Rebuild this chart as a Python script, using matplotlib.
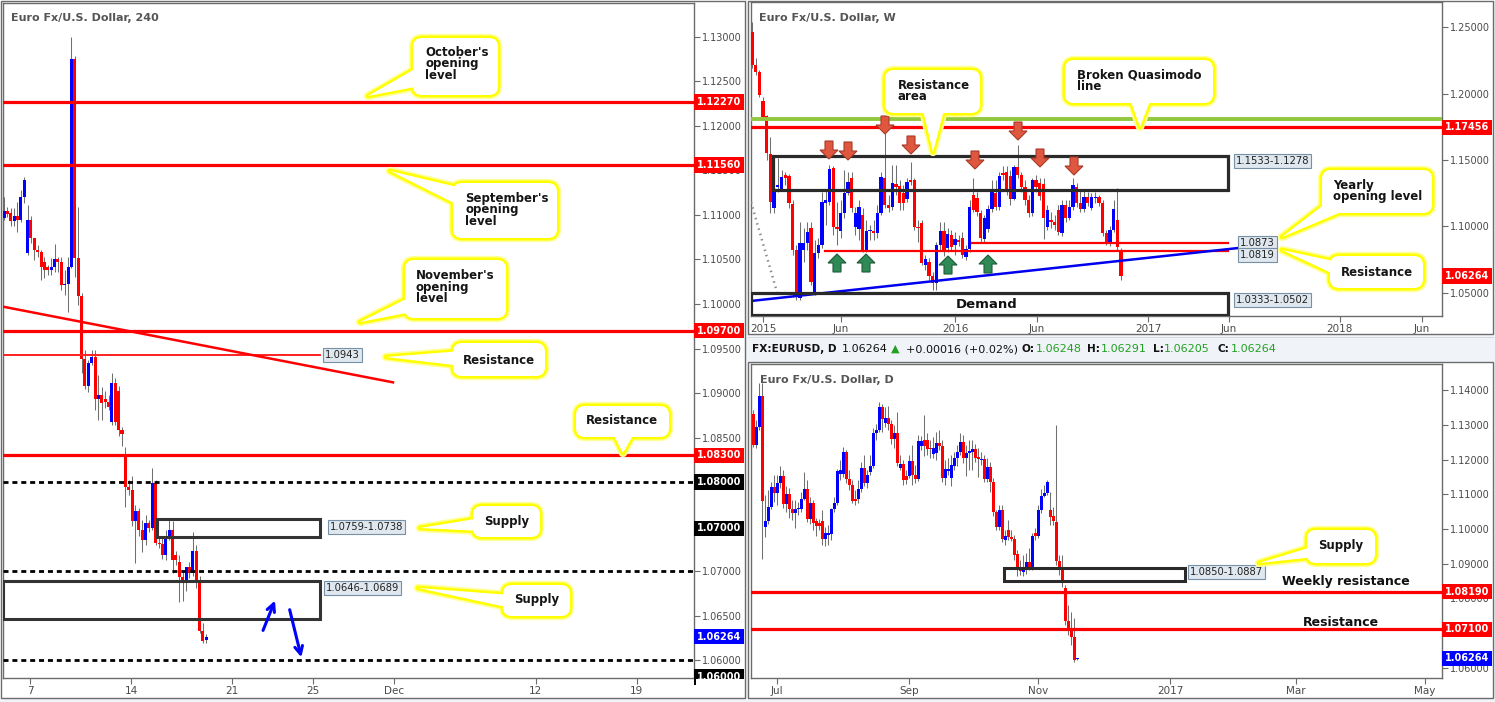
import matplotlib
matplotlib.use("Agg")
import matplotlib.pyplot as plt
import matplotlib.transforms as mtransforms
from matplotlib.patches import Rectangle, FancyBboxPatch, Polygon
from matplotlib.ticker import MultipleLocator, FuncFormatter
import numpy as np

plt.rcParams['font.family'] = ['DejaVu Sans']

# ---------------------------------------------------------------- data
# EUR/USD 240-minute candles
h4_open = [1.1097, 1.1104, 1.1102, 1.1093, 1.1099, 1.1094, 1.1120, 1.1057, 1.1094, 1.1074,
           1.1061, 1.1058, 1.1047, 1.1041, 1.1038, 1.1042, 1.1050, 1.1047, 1.1021, 1.1023,
           1.1041, 1.1275, 1.1052, 1.1009, 1.0938, 1.0908, 1.0934, 1.0941, 1.0893, 1.0898,
           1.0893, 1.0890, 1.0867, 1.0911, 1.0902, 1.0859, 1.0830, 1.0794, 1.0791, 1.0756,
           1.0767, 1.0746, 1.0735, 1.0754, 1.0748, 1.0799, 1.0732, 1.0731, 1.0718, 1.0738,
           1.0746, 1.0718, 1.0710, 1.0693, 1.0687, 1.0705, 1.0698, 1.0723, 1.0687, 1.0633,
           1.0623]
h4_high = [1.1120, 1.1109, 1.1108, 1.1108, 1.1115, 1.1128, 1.1143, 1.1111, 1.1099, 1.1074,
           1.1066, 1.1061, 1.1053, 1.1044, 1.1052, 1.1067, 1.1053, 1.1053, 1.1038, 1.1053,
           1.1300, 1.1278, 1.1109, 1.1012, 1.0948, 1.0937, 1.0948, 1.0948, 1.0920, 1.0907,
           1.0902, 1.0898, 1.0922, 1.0917, 1.0908, 1.0862, 1.0839, 1.0802, 1.0807, 1.0774,
           1.0771, 1.0757, 1.0763, 1.0757, 1.0816, 1.0802, 1.0737, 1.0737, 1.0746, 1.0757,
           1.0756, 1.0723, 1.0718, 1.0701, 1.0705, 1.0710, 1.0744, 1.0729, 1.0695, 1.0642,
           1.0629]
h4_low = [1.1094, 1.1098, 1.1088, 1.1088, 1.1081, 1.1092, 1.1113, 1.1055, 1.1068, 1.1049,
          1.1053, 1.1027, 1.1029, 1.1032, 1.1032, 1.1036, 1.1036, 1.1016, 1.1010, 1.0991,
          1.1040, 1.1030, 1.0999, 1.0923, 1.0905, 1.0901, 1.0931, 1.0881, 1.0870, 1.0870,
          1.0883, 1.0881, 1.0864, 1.0864, 1.0852, 1.0841, 1.0772, 1.0785, 1.0751, 1.0709,
          1.0740, 1.0721, 1.0729, 1.0744, 1.0746, 1.0729, 1.0726, 1.0714, 1.0712, 1.0735,
          1.0698, 1.0707, 1.0665, 1.0667, 1.0678, 1.0692, 1.0695, 1.0681, 1.0631, 1.0619,
          1.0619]
h4_close = [1.1104, 1.1101, 1.1093, 1.1099, 1.1094, 1.1120, 1.1139, 1.1094, 1.1074, 1.1061,
            1.1058, 1.1041, 1.1038, 1.1038, 1.1042, 1.1050, 1.1047, 1.1021, 1.1023, 1.1041,
            1.1275, 1.1052, 1.1009, 1.0938, 1.0908, 1.0934, 1.0941, 1.0893, 1.0898, 1.0889,
            1.0890, 1.0884, 1.0911, 1.0867, 1.0858, 1.0854, 1.0794, 1.0791, 1.0756, 1.0767,
            1.0746, 1.0735, 1.0754, 1.0748, 1.0799, 1.0732, 1.0731, 1.0718, 1.0738, 1.0746,
            1.0713, 1.0712, 1.0693, 1.0687, 1.0705, 1.0698, 1.0723, 1.0687, 1.0633, 1.0622,
            1.0626]
h4_tick_pos = [7.7, 37.7, 67.7, 91.7, 115.7, 157.7, 187.7]
h4_tick_lab = ['7', '14', '21', '25', 'Dec', '12', '19']

# EUR/USD weekly candles
w_open = [1.2462, 1.2214, 1.2162, 1.1943, 1.1831, 1.1545, 1.1139, 1.1297, 1.1282, 1.1387,
          1.1380, 1.1169, 1.0823, 1.0462, 1.0823, 1.0876, 1.0988, 1.0507, 1.0801, 1.0861,
          1.1176, 1.1184, 1.1442, 1.0996, 1.0966, 1.1101, 1.1252, 1.1364, 1.0996, 1.0981,
          1.1086, 1.0823, 1.0966, 1.0966, 1.0951, 1.1101, 1.1364, 1.1161, 1.1146, 1.1319,
          1.1304, 1.1252, 1.1207, 1.1349, 1.1349, 1.0996, 1.1026, 1.0710, 1.0733, 1.0627,
          1.0575, 1.0861, 1.0966, 1.0838, 1.0936, 1.0861, 1.0898, 1.0913, 1.0770, 1.0831,
          1.1237, 1.1214, 1.1101, 1.0906, 1.0981, 1.1131, 1.1252, 1.1146, 1.1402, 1.1410,
          1.1380, 1.1207, 1.1447, 1.1387, 1.1297, 1.1199, 1.1101, 1.1349, 1.1327, 1.1319,
          1.0996, 1.1049, 1.1034, 1.1124, 1.0951, 1.1161, 1.1064, 1.1146, 1.1297, 1.1176,
          1.1131, 1.1222, 1.1139, 1.1214, 1.1222, 1.1176, 1.0951, 1.0876, 1.0973, 1.1049,
          1.0823]
w_high = [1.2538, 1.2267, 1.2177, 1.1974, 1.1838, 1.1673, 1.1515, 1.1515, 1.1425, 1.1410,
          1.1395, 1.1199, 1.0861, 1.1034, 1.0988, 1.1034, 1.1034, 1.0898, 1.0913, 1.1259,
          1.1274, 1.1462, 1.1455, 1.1184, 1.1199, 1.1425, 1.1410, 1.1410, 1.1146, 1.1199,
          1.1139, 1.1049, 1.1011, 1.1049, 1.1161, 1.1410, 1.1703, 1.1237, 1.1462, 1.1462,
          1.1349, 1.1312, 1.1364, 1.1485, 1.1364, 1.1049, 1.1049, 1.0785, 1.0763, 1.0658,
          1.0883, 1.1034, 1.1034, 1.0988, 1.0973, 1.0958, 1.0936, 1.0958, 1.0861, 1.1199,
          1.1364, 1.1259, 1.1124, 1.1086, 1.1161, 1.1349, 1.1349, 1.1410, 1.1455, 1.1455,
          1.1425, 1.1462, 1.1613, 1.1410, 1.1349, 1.1237, 1.1364, 1.1387, 1.1364, 1.1364,
          1.1161, 1.1109, 1.1086, 1.1161, 1.1199, 1.1199, 1.1199, 1.1364, 1.1327, 1.1274,
          1.1274, 1.1259, 1.1252, 1.1259, 1.1237, 1.1199, 1.0973, 1.1003, 1.1199, 1.1289,
          1.0838]
w_low = [1.2192, 1.2139, 1.1974, 1.1801, 1.1500, 1.1101, 1.1101, 1.1259, 1.1274, 1.1312,
         1.1139, 1.0785, 1.0447, 1.0447, 1.0733, 1.0823, 1.0560, 1.0485, 1.0763, 1.0838,
         1.1011, 1.1161, 1.0936, 1.0861, 1.0913, 1.1064, 1.1237, 1.1109, 1.0936, 1.0898,
         1.0808, 1.0808, 1.0898, 1.0898, 1.0913, 1.1086, 1.1139, 1.1109, 1.1124, 1.1237,
         1.1124, 1.1124, 1.1184, 1.1312, 1.0973, 1.0883, 1.0710, 1.0673, 1.0597, 1.0522,
         1.0522, 1.0823, 1.0778, 1.0808, 1.0823, 1.0785, 1.0853, 1.0763, 1.0748, 1.0808,
         1.1109, 1.1079, 1.0883, 1.0883, 1.0958, 1.1109, 1.1124, 1.1124, 1.1349, 1.1237,
         1.1161, 1.1199, 1.1364, 1.1259, 1.1161, 1.1071, 1.1079, 1.1259, 1.1199, 1.0906,
         1.0973, 1.0988, 1.0973, 1.0936, 1.0928, 1.1034, 1.1049, 1.1124, 1.1146, 1.1109,
         1.1109, 1.1154, 1.1124, 1.1176, 1.1154, 1.0928, 1.0861, 1.0853, 1.0958, 1.0823,
         1.0597]
w_close = [1.2214, 1.2162, 1.1989, 1.1823, 1.1552, 1.1184, 1.1259, 1.1312, 1.1372, 1.1364,
           1.1176, 1.0823, 1.0470, 1.0876, 1.0876, 1.0958, 1.0582, 1.0801, 1.0861, 1.1184,
           1.1199, 1.1432, 1.0996, 1.0981, 1.1101, 1.1252, 1.1334, 1.1139, 1.1101, 1.1146,
           1.0823, 1.0966, 1.0973, 1.0951, 1.1101, 1.1372, 1.1161, 1.1139, 1.1327, 1.1297,
           1.1176, 1.1176, 1.1334, 1.1334, 1.0996, 1.0988, 1.0725, 1.0755, 1.0627, 1.0575,
           1.0861, 1.0966, 1.0808, 1.0943, 1.0846, 1.0906, 1.0883, 1.0785, 1.0831, 1.1146,
           1.1124, 1.1109, 1.0913, 1.1064, 1.1131, 1.1259, 1.1146, 1.1380, 1.1387, 1.1259,
           1.1207, 1.1447, 1.1387, 1.1297, 1.1199, 1.1101, 1.1349, 1.1297, 1.1229, 1.1064,
           1.1124, 1.1034, 1.1011, 1.0958, 1.1161, 1.1064, 1.1146, 1.1312, 1.1176, 1.1131,
           1.1222, 1.1176, 1.1222, 1.1222, 1.1176, 1.0951, 1.0876, 1.0973, 1.1131, 1.0846,
           1.0626]
w_tick_pos = [3.0, 24.1, 55.0, 77.2, 107.3, 129.3, 159.3, 181.6]
w_tick_lab = ['2015', 'Jun', '2016', 'Jun', '2017', 'Jun', '2018', 'Jun']

# EUR/USD daily candles
d_open = [1.1332, 1.1242, 1.1294, 1.1384, 1.1006, 1.1023, 1.1063, 1.1121, 1.1104, 1.1133,
          1.1153, 1.1072, 1.1101, 1.1058, 1.1046, 1.1058, 1.1058, 1.1087, 1.1115, 1.1029,
          1.1075, 1.1023, 1.1017, 1.1023, 1.0971, 1.0983, 1.0986, 1.1058, 1.1075, 1.1159,
          1.1159, 1.1222, 1.1144, 1.1127, 1.1087, 1.1087, 1.1115, 1.1176, 1.1133, 1.1164,
          1.1182, 1.1277, 1.1286, 1.1352, 1.1306, 1.1320, 1.1303, 1.1260, 1.1277, 1.1176,
          1.1188, 1.1153, 1.1153, 1.1196, 1.1156, 1.1144, 1.1239, 1.1257, 1.1257, 1.1234,
          1.1216, 1.1219, 1.1248, 1.1239, 1.1147, 1.1167, 1.1147, 1.1182, 1.1205, 1.1222,
          1.1251, 1.1205, 1.1219, 1.1222, 1.1231, 1.1208, 1.1199, 1.1202, 1.1144, 1.1179,
          1.1136, 1.1049, 1.1006, 1.1055, 1.0968, 1.0997, 1.0977, 1.0971, 1.0928, 1.0887,
          1.0876, 1.0887, 1.0905, 1.0890, 1.0988, 1.0980, 1.1055, 1.1095, 1.1104, 1.1055,
          1.1037, 1.1020, 1.0908, 1.0887, 1.0830, 1.0734, 1.0714, 1.0688, 1.06248]
d_high = [1.1343, 1.1315, 1.1421, 1.1421, 1.1098, 1.1112, 1.1136, 1.1156, 1.1156, 1.1182,
          1.1170, 1.1124, 1.1118, 1.1084, 1.1084, 1.1078, 1.1107, 1.1164, 1.1141, 1.1092,
          1.1084, 1.1032, 1.1029, 1.1055, 1.1006, 1.1011, 1.1061, 1.1092, 1.1173, 1.1199,
          1.1237, 1.1228, 1.1170, 1.1141, 1.1112, 1.1141, 1.1193, 1.1213, 1.1170, 1.1213,
          1.1291, 1.1303, 1.1366, 1.1361, 1.1352, 1.1355, 1.1315, 1.1300, 1.1338, 1.1213,
          1.1199, 1.1170, 1.1213, 1.1242, 1.1185, 1.1271, 1.1268, 1.1329, 1.1277, 1.1257,
          1.1265, 1.1280, 1.1286, 1.1257, 1.1199, 1.1205, 1.1213, 1.1222, 1.1242, 1.1277,
          1.1271, 1.1242, 1.1257, 1.1257, 1.1245, 1.1234, 1.1222, 1.1213, 1.1205, 1.1193,
          1.1147, 1.1055, 1.1069, 1.1069, 1.0997, 1.1026, 1.0997, 1.0983, 1.0939, 1.0910,
          1.0925, 1.0931, 1.0945, 1.0988, 1.1003, 1.1069, 1.1115, 1.1127, 1.1141, 1.1107,
          1.1063, 1.1300, 1.0925, 1.0925, 1.0838, 1.0781, 1.0760, 1.0743, 1.06291]
d_low = [1.1237, 1.1234, 1.1286, 1.0913, 1.0977, 1.1014, 1.1058, 1.1078, 1.1069, 1.1118,
         1.1061, 1.1049, 1.1032, 1.1026, 1.1003, 1.1040, 1.1049, 1.1084, 1.1020, 1.1014,
         1.0997, 1.0980, 1.0997, 1.0954, 1.0951, 1.0954, 1.0968, 1.1049, 1.1069, 1.1141,
         1.1150, 1.1133, 1.1112, 1.1075, 1.1069, 1.1075, 1.1107, 1.1124, 1.1118, 1.1156,
         1.1176, 1.1257, 1.1280, 1.1280, 1.1294, 1.1286, 1.1245, 1.1234, 1.1182, 1.1170,
         1.1127, 1.1130, 1.1147, 1.1127, 1.1133, 1.1138, 1.1228, 1.1211, 1.1213, 1.1205,
         1.1205, 1.1199, 1.1228, 1.1136, 1.1127, 1.1156, 1.1124, 1.1170, 1.1182, 1.1213,
         1.1190, 1.1153, 1.1170, 1.1170, 1.1193, 1.1150, 1.1185, 1.1136, 1.1136, 1.1107,
         1.1037, 1.0997, 1.0997, 1.0962, 1.0954, 1.0968, 1.0965, 1.0910, 1.0864, 1.0867,
         1.0864, 1.0870, 1.0882, 1.0882, 1.0968, 1.0974, 1.1046, 1.1092, 1.1098, 1.1011,
         1.1011, 1.0896, 1.0867, 1.0832, 1.0723, 1.0694, 1.0665, 1.0616, 1.06205]
d_close = [1.1242, 1.1294, 1.1384, 1.1081, 1.1023, 1.1063, 1.1121, 1.1104, 1.1133, 1.1153,
           1.1072, 1.1101, 1.1058, 1.1046, 1.1058, 1.1061, 1.1087, 1.1115, 1.1029, 1.1075,
           1.1017, 1.1009, 1.1009, 1.0971, 1.0988, 1.0988, 1.1058, 1.1075, 1.1167, 1.1170,
           1.1222, 1.1144, 1.1127, 1.1081, 1.1081, 1.1115, 1.1176, 1.1133, 1.1156, 1.1182,
           1.1277, 1.1286, 1.1352, 1.1317, 1.1320, 1.1303, 1.1260, 1.1277, 1.1190, 1.1188,
           1.1141, 1.1141, 1.1196, 1.1156, 1.1144, 1.1254, 1.1254, 1.1239, 1.1231, 1.1231,
           1.1234, 1.1248, 1.1239, 1.1147, 1.1173, 1.1173, 1.1185, 1.1205, 1.1222, 1.1251,
           1.1205, 1.1219, 1.1225, 1.1231, 1.1205, 1.1202, 1.1202, 1.1144, 1.1179, 1.1136,
           1.1049, 1.1006, 1.1055, 1.0971, 1.0980, 1.0977, 1.0971, 1.0925, 1.0882, 1.0879,
           1.0887, 1.0905, 1.0890, 1.0980, 1.0980, 1.1055, 1.1095, 1.1104, 1.1136, 1.1035,
           1.1023, 1.0908, 1.0882, 1.0853, 1.0734, 1.0714, 1.0688, 1.0622, 1.06264]
d_tick_pos = [8, 52, 95, 139, 181, 224]
d_tick_lab = ['Jul', 'Sep', 'Nov', '2017', 'Mar', 'May']

# key levels
h4_levels_red = [1.1227, 1.1156, 1.0970, 1.0830]
h4_levels_dash = [1.0800, 1.0700, 1.0600]
h4_resistance_thin = 1.0943
h4_trend = [1.0997, 1.0912]
h4_supply_upper = (1.0738, 1.0759)
h4_supply_lower = (1.0646, 1.0689)
w_qm_level = 1.17456
w_green_level = 1.1807
w_res_area = (1.1278, 1.1533)
w_demand = (1.0333, 1.0502)
w_yearly_open = 1.0873
w_resistance = 1.0819
w_trend = [1.0440, 1.0838]
w_dotted = [1.1184, 1.0485]
d_weekly_res = 1.0819
d_resistance = 1.0710
d_supply = (1.0850, 1.0887)
last_price = 1.06264

# ---------------------------------------------------------------- figure
W, H = 1495, 702
fig = plt.figure(figsize=(W / 100, H / 100), dpi=100)
BG = '#f0f3f8'
fig.patch.set_facecolor(BG)
GRID = '#6b6b6b'
TXT = '#4a4a4a'


def px_axes(x0, y0, x1, y1, **kw):
    return fig.add_axes([x0 / W, 1 - y1 / H, (x1 - x0) / W, (y1 - y0) / H], **kw)


def panel_bg(x0, y0, x1, y1):
    fig.add_artist(Rectangle((x0 / W, 1 - y1 / H), (x1 - x0) / W, (y1 - y0) / H,
                             transform=fig.transFigure, fc='white', ec='none', zorder=-5))


panel_bg(0, 0, 745, 698)
panel_bg(748, 0, 1493, 334)
panel_bg(748, 362, 1493, 698)


def style_axes(ax, xlim, ylim, step, xticks, xlabels, hide=()):
    ax.set_xlim(*xlim)
    ax.set_ylim(*ylim)
    ax.yaxis.tick_right()
    ax.yaxis.set_major_locator(MultipleLocator(step))
    ax.yaxis.set_major_formatter(FuncFormatter(
        lambda v, p: '' if any(abs(v - hv) < 1e-7 for hv in hide) else '%.5f' % v))
    ax.tick_params(axis='y', direction='out', length=4, width=0.8, color=GRID,
                   labelsize=7, labelcolor=TXT, pad=2)
    ax.set_xticks(xticks)
    ax.set_xticklabels(xlabels)
    ax.tick_params(axis='x', direction='out', length=4, width=0.8, color=GRID,
                   labelsize=7.5, labelcolor=TXT, pad=2)
    for s in ax.spines.values():
        s.set_color(GRID)
        s.set_linewidth(1.0)
    ax.set_facecolor('white')


def candles(ax, o, h, l, c, width, minh):
    o, h, l, c = map(np.asarray, (o, h, l, c))
    x = np.arange(len(o))
    cols = np.where(c >= o, '#0000ff', '#ff0000')
    ax.vlines(x, l, h, color='#707070', lw=0.75, zorder=2)
    ax.bar(x, np.maximum(np.abs(c - o), minh), bottom=np.minimum(o, c), width=width,
           color=cols, linewidth=0, zorder=3)


def tag(ax, price, text, fc):
    tr = mtransforms.blended_transform_factory(ax.transAxes, ax.transData)
    ax.annotate(text, xy=(1.0, price), xycoords=tr, xytext=(2.2, 0), textcoords='offset points',
                ha='left', va='center', color='white', fontsize=7, fontweight='bold',
                bbox=dict(boxstyle='square,pad=0.28', fc=fc, ec='none'),
                annotation_clip=False, zorder=30)


# ---------------------------------------------------------------- 240 chart
ax1 = px_axes(3, 3, 694, 678)
style_axes(ax1, (-0.3, 204.7), (1.0580, 1.1338), 0.005, h4_tick_pos, h4_tick_lab,
           hide=(1.075, 1.080))
candles(ax1, h4_open, h4_high, h4_low, h4_close, 0.9, 0.00008)
for lv in h4_levels_red:
    ax1.axhline(lv, color='#ff0000', lw=2.3, zorder=4)
for lv in h4_levels_dash:
    ax1.axhline(lv, color='black', lw=2.0, ls=(0, (1.8, 1.4)), zorder=4)
ax1.plot([-0.3, 93.8], [h4_resistance_thin] * 2, color='#ff2020', lw=1.4, zorder=4)
ax1.plot([-0.3, 115.4], h4_trend, color='#ff0000', lw=1.8, zorder=4)
ax1.add_patch(Rectangle((45.4, h4_supply_upper[0]), 93.8 - 45.4,
                        h4_supply_upper[1] - h4_supply_upper[0], fill=False,
                        ec='#333333', lw=2.2, zorder=5))
ax1.add_patch(Rectangle((-0.3, h4_supply_lower[0]), 93.8 + 0.3,
                        h4_supply_lower[1] - h4_supply_lower[0], fill=False,
                        ec='#333333', lw=2.2, zorder=5))
for lv in h4_levels_red:
    tag(ax1, lv, '%.5f' % lv, '#ff0000')
tag(ax1, 1.0800, '1.08000', '#000000')
tag(ax1, 1.0748, '1.07000', '#000000')
tag(ax1, last_price, '%.5f' % last_price, '#0000ff')
tag(ax1, 1.0581, '1.06000', '#000000')

# ---------------------------------------------------------------- weekly chart
ax2 = px_axes(751, 2, 1442, 316)
style_axes(ax2, (-0.27, 186.99), (1.0327, 1.2688), 0.05, w_tick_pos, w_tick_lab)
candles(ax2, w_open, w_high, w_low, w_close, 0.9, 0.0004)
ax2.axhline(w_green_level, color='#92c83e', lw=2.8, zorder=4)
ax2.axhline(w_qm_level, color='#ff0000', lw=2.3, zorder=4)
ax2.add_patch(Rectangle((5.7, w_res_area[0]), 129.0 - 5.7, w_res_area[1] - w_res_area[0],
                        fill=False, ec='#2a2a2a', lw=2.3, zorder=5))
ax2.add_patch(Rectangle((-0.27, w_demand[0]), 129.0 + 0.27, w_demand[1] - w_demand[0],
                        fill=False, ec='#2a2a2a', lw=2.3, zorder=5))
ax2.plot([59.6, 129.0], [w_yearly_open] * 2, color='#ff0000', lw=1.6, zorder=4)
ax2.plot([19.8, 129.0], [w_resistance] * 2, color='#ff0000', lw=1.6, zorder=4)
ax2.plot([-0.27, 131.7], w_trend, color='#0000ee', lw=1.8, zorder=4)
ax2.plot([-0.27, 7.0], w_dotted, color='#8c8c8c', lw=1.8, ls=(0, (0.6, 1.6)), zorder=4)
tag(ax2, w_qm_level, '%.5f' % w_qm_level, '#ff0000')
tag(ax2, last_price, '%.5f' % last_price, '#ff0000')

# ---------------------------------------------------------------- daily chart
ax3 = px_axes(751, 364, 1442, 678)
style_axes(ax3, (-0.67, 229.67), (1.0570, 1.1476), 0.01, d_tick_pos, d_tick_lab)
candles(ax3, d_open, d_high, d_low, d_close, 1.0, 0.0002)
ax3.axhline(d_weekly_res, color='#ff0000', lw=2.3, zorder=4)
ax3.axhline(d_resistance, color='#ff0000', lw=2.3, zorder=4)
ax3.add_patch(Rectangle((83.7, d_supply[0]), 144.0 - 83.7, d_supply[1] - d_supply[0],
                        fill=False, ec='#2a2a2a', lw=2.2, zorder=5))
tag(ax3, d_weekly_res, '1.08190', '#ff0000')
tag(ax3, d_resistance, '1.07100', '#ff0000')
tag(ax3, last_price, '%.5f' % last_price, '#0000ff')

# ---------------------------------------------------------------- overlay (pixel coords)
ov = fig.add_axes([0, 0, 1, 1], zorder=10)
ov.set_xlim(0, W)
ov.set_ylim(H, 0)
ov.axis('off')
ov.patch.set_visible(False)

# hide lower half of clipped tag
ov.add_patch(Rectangle((695.5, 678.5), 49, 18, fc='white', ec='none', zorder=1))

# panel frames
for (x0, y0, x1, y1) in [(0.5, 0.5, 745, 698), (748, 0.5, 1493, 334), (748, 362, 1493, 698)]:
    ov.add_patch(Rectangle((x0, y0), x1 - x0, y1 - y0, fill=False, ec=GRID, lw=1.0, zorder=2))
ov.plot([748, 1493], [336.5, 336.5], color='#d0d4da', lw=0.6, zorder=2)

# titles
ov.text(11, 18, 'Euro Fx/U.S. Dollar, 240', fontsize=8, fontweight='bold', color='#555555',
        va='center', ha='left', zorder=5)
ov.text(759, 18, 'Euro Fx/U.S. Dollar, W', fontsize=8, fontweight='bold', color='#555555',
        va='center', ha='left', zorder=5)
ov.text(760, 380, 'Euro Fx/U.S. Dollar, D', fontsize=8, fontweight='bold', color='#555555',
        va='center', ha='left', zorder=5)

# header of daily panel
hy = 349
ov.text(752, hy, 'FX:EURUSD, D', fontsize=7.6, fontweight='bold', color='#111111', va='center')
ov.text(842, hy, '1.06264', fontsize=8, color='#111111', va='center')
ov.text(891, hy, '\u25b2', fontsize=8, color='#22a022', va='center')
ov.text(906, hy, '+0.00016 (+0.02%)', fontsize=8, color='#111111', va='center')
for lab, xl, val, xv in [('O:', 1021, '1.06248', 1036), ('H:', 1087, '1.06291', 1101),
                         ('L:', 1153, '1.06205', 1164), ('C:', 1217, '1.06264', 1231)]:
    ov.text(xl, hy, lab, fontsize=7.6, fontweight='bold', color='#111111', va='center')
    ov.text(xv, hy, val, fontsize=8, color='#22a022', va='center')


def value_label(x, y, text):
    ov.text(x, y, text, fontsize=7.2, color='#222222', va='center', ha='left', zorder=6,
            bbox=dict(boxstyle='square,pad=0.18', fc='#dfe7ef', ec='#7890a5', lw=0.8))


value_label(325, 355, '1.0943')
value_label(330, 527, '1.0759-1.0738')
value_label(326, 588, '1.0646-1.0689')
value_label(1236, 161, '1.1533-1.1278')
value_label(1236, 300, '1.0333-1.0502')
value_label(1240, 243, '1.0873')
value_label(1240, 255, '1.0819')
value_label(1190, 572, '1.0850-1.0887')

# blue arrows on 240 chart
for (xa, ya, xb, yb) in [(262, 633, 276, 598), (289, 607, 302, 660)]:
    ov.annotate('', xy=(xb, yb), xytext=(xa, ya),
                arrowprops=dict(arrowstyle='->', color='#0000ff', lw=2.2, mutation_scale=14),
                zorder=6)


def block_arrow(cx, cy, down, fc, ec):
    s = 1 if down else -1
    pts = [(cx - 4, cy - 9 * s), (cx + 4, cy - 9 * s), (cx + 4, cy), (cx + 9, cy),
           (cx, cy + 9 * s), (cx - 9, cy), (cx - 4, cy)]
    ov.add_patch(Polygon(pts, closed=True, fc=fc, ec=ec, lw=0.8, zorder=6))


for (cx, cy) in [(829, 150), (848, 151), (885, 125), (911, 145), (975, 160),
                 (1018, 131), (1040, 158), (1074, 166)]:
    block_arrow(cx, cy, True, '#e0573f', '#a63a28')
for (cx, cy) in [(837, 263), (866, 263), (948, 265), (988, 264)]:
    block_arrow(cx, cy, False, '#2f8a55', '#1e5c38')

# plain texts
ov.text(987, 305, 'Demand', fontsize=9.5, fontweight='bold', color='#111111', ha='center',
        va='center', zorder=6)
ov.text(1346, 581, 'Weekly resistance', fontsize=9, fontweight='bold', color='#111111',
        ha='center', va='center', zorder=6)
ov.text(1341, 622, 'Resistance', fontsize=9, fontweight='bold', color='#111111',
        ha='center', va='center', zorder=6)


def callout(box, apex, base, text, tx, ty, ha='left'):
    x0, y0, x1, y1 = box
    tail = [apex, base[0], base[1]]
    for lw, col, z in [(6.0, '#ffff9c', 7), (3.6, '#ffff00', 8)]:
        ov.add_patch(Polygon(tail, closed=True, fc='none', ec=col, lw=lw, joinstyle='round', zorder=z))
        ov.add_patch(FancyBboxPatch((x0, y0), x1 - x0, y1 - y0,
                                    boxstyle='round,pad=0,rounding_size=9',
                                    fc='none', ec=col, lw=lw, zorder=z))
    ov.add_patch(Polygon(tail, closed=True, fc='white', ec='none', zorder=9))
    ov.add_patch(FancyBboxPatch((x0, y0), x1 - x0, y1 - y0, boxstyle='round,pad=0,rounding_size=9',
                                fc='white', ec='none', zorder=9))
    ov.text(tx, ty, text, fontsize=8.5, fontweight='bold', color='#151515', ha=ha, va='center',
            linespacing=0.82, zorder=10)


callout((413, 38, 498, 95), (368, 96), [(420, 66), (420, 86)], "October's\nopening\nlevel", 425, 64)
callout((453, 183, 557, 238), (390, 171), [(478, 192), (460, 206)], "September's\nopening\nlevel", 465, 210)
callout((405, 260, 506, 318), (360, 322), [(412, 296), (412, 312)], "November's\nopening\nlevel", 416, 287)
callout((453, 343, 545, 376), (386, 357), [(462, 351), (462, 366)], "Resistance", 499, 360, 'center')
callout((576, 406, 669, 437), (623, 453), [(611, 430), (636, 430)], "Resistance", 622, 421, 'center')
callout((473, 506, 540, 537), (420, 528), [(481, 518), (481, 531)], "Supply", 507, 521, 'center')
callout((503, 585, 570, 616), (418, 588), [(511, 595), (511, 608)], "Supply", 537, 600, 'center')
callout((885, 70, 980, 113), (933, 152), [(922, 106), (945, 106)], "Resistance\narea", 898, 91)
callout((1065, 60, 1213, 103), (1140, 127), [(1129, 96), (1152, 96)], "Broken Quasimodo\nline", 1077, 81)
callout((1322, 170, 1432, 213), (1282, 237), [(1330, 200), (1346, 210)], "Yearly\nopening level", 1333, 191)
callout((1330, 256, 1423, 288), (1282, 250), [(1338, 262), (1338, 276)], "Resistance", 1377, 272, 'center')
callout((1307, 530, 1375, 563), (1259, 563), [(1315, 546), (1315, 557)], "Supply", 1341, 546, 'center')

fig.savefig('out.png', dpi=100, facecolor=BG)
